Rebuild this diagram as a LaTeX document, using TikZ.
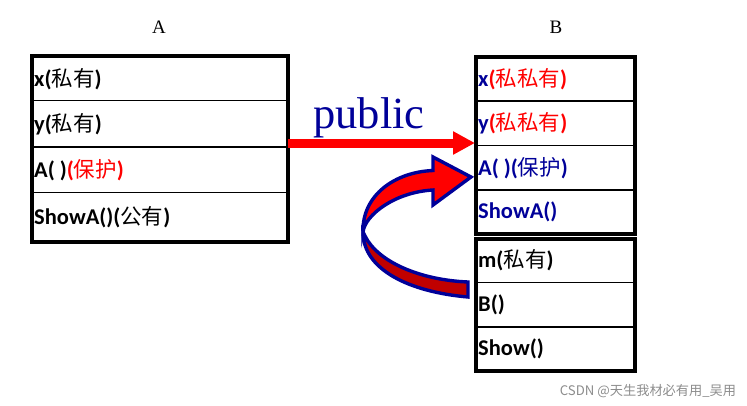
\documentclass[tikz,border=0pt]{standalone}
\usepackage{fontspec}
\usetikzlibrary{arrows.meta}
\newfontfamily\latf{Carlito}
\newfontfamily\cjkf{Noto Sans CJK SC}
\newfontfamily\serf{Liberation Serif}
\newcommand\zh[1]{{\cjkf\mdseries\fontsize{21.5}{24}\selectfont #1}}
\definecolor{navy}{HTML}{000099}
\definecolor{darkred}{HTML}{C00000}
\begin{document}
\begin{tikzpicture}[x=1pt,y=-1pt,
  outer/.style={draw, line width=3.2pt, rectangle, inner sep=0pt},
  rowline/.style={line width=1.2pt},
  lbl/.style={anchor=west, inner sep=0pt, font=\latf\bfseries\fontsize{22.5}{26}\selectfont},
  title/.style={anchor=base, inner sep=0pt, font=\serf\fontsize{19}{22}\selectfont},
  pubarrow/.style={draw=red, line width=9pt, -{Triangle[length=22pt,width=22pt]}},
  curveout/.style={draw=navy, line width=3.4pt, line join=miter},
]
\useasboundingbox (0,0) rectangle (747,405);

% titles
\node[title] (tA) at (159,33) {A};
\node[title] (tB) at (556,33) {B};

% box A
\node[outer, minimum width=256pt, minimum height=186pt] (boxA) at (160,149) {};
\draw[rowline] (32,100.5) -- (288,100.5);
\draw[rowline] (32,147) -- (288,147);
\draw[rowline] (32,192.5) -- (288,192.5);
\node[lbl] (a1) at (34,79) {x(\zh{私有})};
\node[lbl] (a2) at (34,124) {y(\zh{私有})};
\node[lbl] (a3) at (34,170) {A( )\textcolor{red}{(\zh{保护})}};
\node[lbl] (a4) at (34,217) {ShowA()(\zh{公有})};

% box B (inherited part)
\node[outer, minimum width=159pt, minimum height=177pt] (boxB1) at (555.5,145.5) {};
\draw[rowline] (476,101) -- (635,101);
\draw[rowline] (476,145.5) -- (635,145.5);
\draw[rowline] (476,190) -- (635,190);
\node[lbl, text=navy] (b1) at (478,79) {x\textcolor{red}{(\zh{私私有})}};
\node[lbl, text=navy] (b2) at (478,123) {y\textcolor{red}{(\zh{私私有})}};
\node[lbl, text=navy] (b3) at (478,168) {A( )(\zh{保护})};
\node[lbl, text=navy] (b4) at (478,212) {ShowA()};

% box B (own part)
\node[outer, minimum width=159pt, minimum height=132pt] (boxB2) at (555.5,305) {};
\draw[rowline] (476,282.5) -- (635,282.5);
\draw[rowline] (476,327) -- (635,327);
\node[lbl] (c1) at (478,260.5) {m(\zh{私有})};
\node[lbl] (c2) at (478,304.5) {B()};
\node[lbl] (c3) at (478,349) {Show()};

% public arrow
\coordinate (ps) at (288,143);
\coordinate (pe) at (475,143);
\draw[pubarrow] (ps) -- (pe);
\node[anchor=base, inner sep=0pt, text=navy, font=\serf\fontsize{44.5}{48}\selectfont] (pub) at (369,128) {public};

% curved arrow: lower band
\coordinate (cl) at (363,232);
\filldraw[curveout, fill=darkred] (cl) .. controls (363,270) and (410,292) .. (468,297)
   -- (468,282) .. controls (420,280) and (378,262) .. (365,236) -- cycle;
% curved arrow: upper band with head
\filldraw[curveout, fill=red] (433,157) -- (471,177) -- (433,205) -- (433,190)
   .. controls (395,192) and (365,215) .. (cl)
   .. controls (362,195) and (395,172) .. (433,170.5) -- cycle;

% watermark
\node[anchor=center, inner sep=0pt, text=black!45, font=\cjkf\fontsize{13.2}{15}\selectfont] (wm) at (648,391) {CSDN @天生我材必有用\_吴用};
\end{tikzpicture}
\end{document}
